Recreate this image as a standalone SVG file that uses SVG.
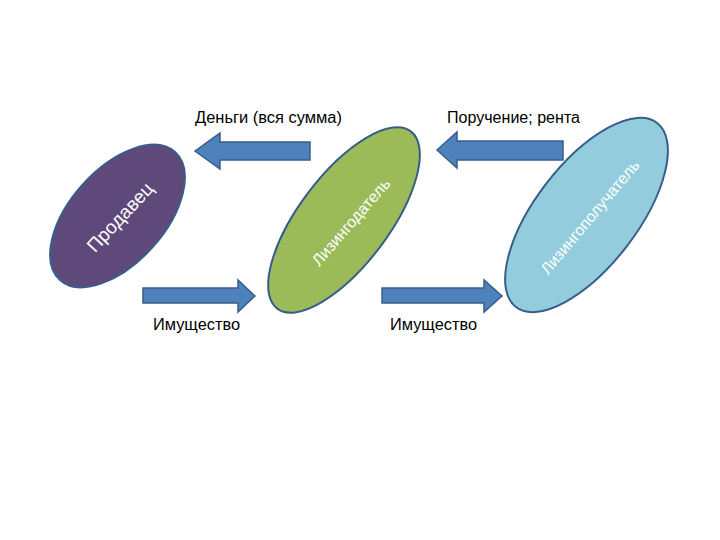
<svg xmlns="http://www.w3.org/2000/svg" width="720" height="540" viewBox="0 0 720 540">
<style>
.arrow{fill:#4F81BD;stroke:#385D8A;stroke-width:1.5;stroke-linejoin:miter}
.node{stroke:#385D8A;stroke-width:2}
.lbl{font-family:"Liberation Sans",Arial,sans-serif;font-size:16px;fill:#000}
.nlbl{font-family:"Liberation Sans",Arial,sans-serif;fill:#fff;text-anchor:middle;dominant-baseline:central}
</style>
<rect width="720" height="540" fill="#fff"/>
<g id="seller">
<ellipse class="node" cx="117.5" cy="216" rx="86" ry="47" fill="#5F497A" transform="rotate(-48 117.5 216)"/>
<text class="nlbl" x="120" y="217" font-size="19" transform="rotate(-47 120 217)">Продавец</text>
</g>
<g id="lessor">
<ellipse class="node" cx="344" cy="220" rx="111" ry="45" fill="#9BBB59" transform="rotate(-53 344 220)"/>
<text class="nlbl" x="351" y="222" font-size="16" fill="#F4F8E8" transform="rotate(-49 351 222)">Лизингодатель</text>
</g>
<g id="lessee">
<ellipse class="node" cx="586.5" cy="215" rx="116" ry="51" fill="#93CDDD" transform="rotate(-52.5 586.5 215)"/>
<text class="nlbl" x="590" y="217" font-size="16" transform="rotate(-50 590 217)">Лизингополучатель</text>
</g>
<g id="connectors">
<polygon class="arrow" points="195,151 220,133 220,142 310,142 310,160 220,160 220,169"/>
<polygon class="arrow" points="437,150 457,132 457,141 563,141 563,160 457,160 457,168"/>
<polygon class="arrow" points="143,288 238,288 238,280 255,296 238,312 238,303 143,303"/>
<polygon class="arrow" points="382,288 484,288 484,280 502,296 484,312 484,303 382,303"/>
<text class="lbl" x="195" y="123" textLength="147" lengthAdjust="spacingAndGlyphs">Деньги (вся сумма)</text>
<text class="lbl" x="447" y="123" textLength="133" lengthAdjust="spacingAndGlyphs">Поручение; рента</text>
<text class="lbl" x="153" y="330" textLength="87" lengthAdjust="spacingAndGlyphs">Имущество</text>
<text class="lbl" x="390" y="330" textLength="87" lengthAdjust="spacingAndGlyphs">Имущество</text>
</g>
</svg>
